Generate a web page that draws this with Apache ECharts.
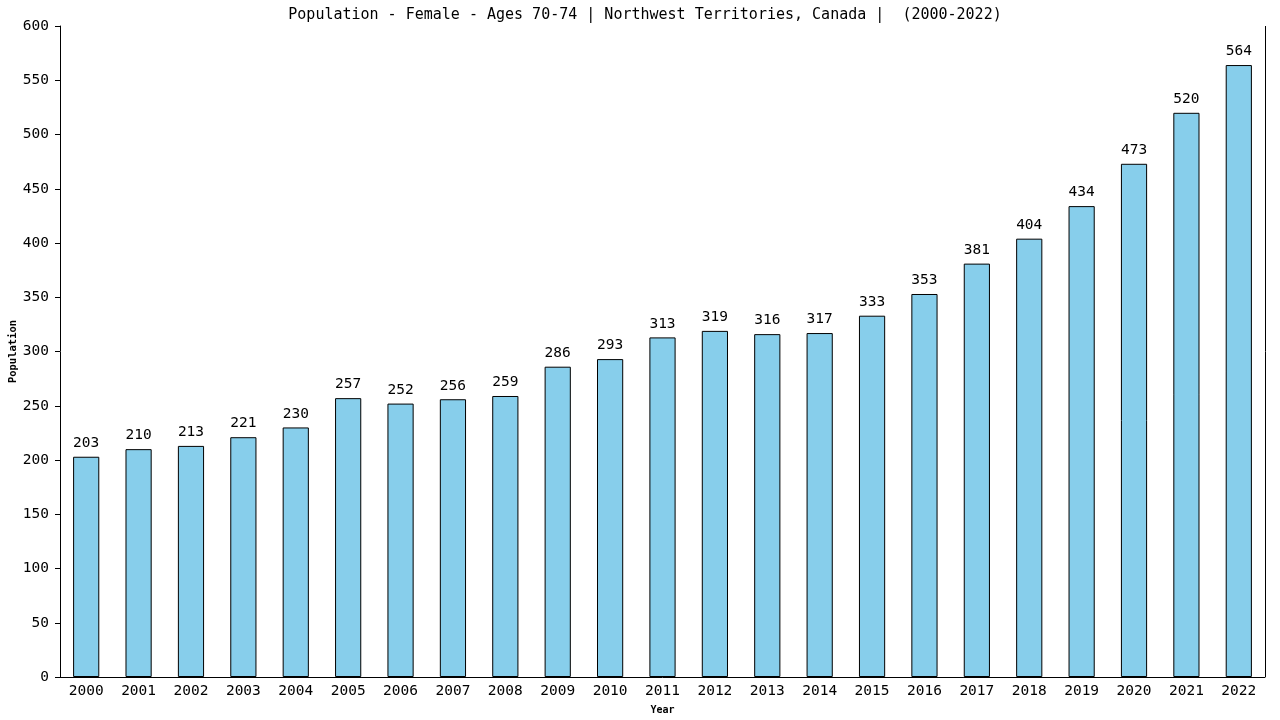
<!DOCTYPE html>
<html><head><meta charset="utf-8">
<script src="https://cdn.jsdelivr.net/npm/echarts@6/dist/echarts.min.js"></script>
<style>html,body{margin:0;padding:0;background:#fff}#c{width:1280px;height:720px}</style>
</head><body><div id="c"></div>
<script>
const years = ['2000','2001','2002','2003','2004','2005','2006','2007','2008','2009','2010','2011','2012','2013','2014','2015','2016','2017','2018','2019','2020','2021','2022'];
const population = [203,210,213,221,230,257,252,256,259,286,293,313,319,316,317,333,353,381,404,434,473,520,564];
const titleText = 'Population - Female - Ages 70-74 | Northwest Territories, Canada |  (2000-2022)';
const font = 'DejaVu Sans Mono';
const chart = echarts.init(document.getElementById('c'));
chart.setOption({
  animation:false,
  title:{text:titleText,left:640,top:3,textAlign:'center',textStyle:{fontFamily:font,fontSize:15,fontWeight:'normal',color:'#000'}},
  grid:{left:60,right:15,top:26,bottom:43,containLabel:false,outerBoundsMode:'none'},
  xAxis:{type:'category',data:years,name:'Year',nameLocation:'middle',nameGap:28,nameMoveOverlap:false,
    nameTextStyle:{fontFamily:font,fontSize:10,fontWeight:'bold',color:'#000'},
    axisLine:{lineStyle:{color:'#000',width:1}},axisTick:{show:false},
    axisLabel:{fontFamily:font,fontSize:14.5,color:'#000',margin:7}},
  yAxis:{type:'value',min:0,max:600,interval:50,name:'Population',nameLocation:'middle',nameGap:41,nameMoveOverlap:false,
    nameTextStyle:{fontFamily:font,fontSize:10.5,fontWeight:'bold',color:'#000'},
    axisLine:{show:true,lineStyle:{color:'#000',width:1}},axisTick:{show:true,length:5,lineStyle:{color:'#000'}},
    splitLine:{show:false},
    axisLabel:{fontFamily:font,fontSize:14.5,color:'#000',margin:11}},
  series:[{type:'bar',data:population,barWidth:'50%',
    itemStyle:{color:'#87CEEB',borderColor:'#000',borderWidth:1},
    label:{show:true,position:'top',distance:6,fontFamily:font,fontSize:14.5,color:'#000'}}],
  graphic:[{type:'line',shape:{x1:1265.5,y1:26,x2:1265.5,y2:677},style:{stroke:'#000',lineWidth:1}}]
});
</script></body></html>
